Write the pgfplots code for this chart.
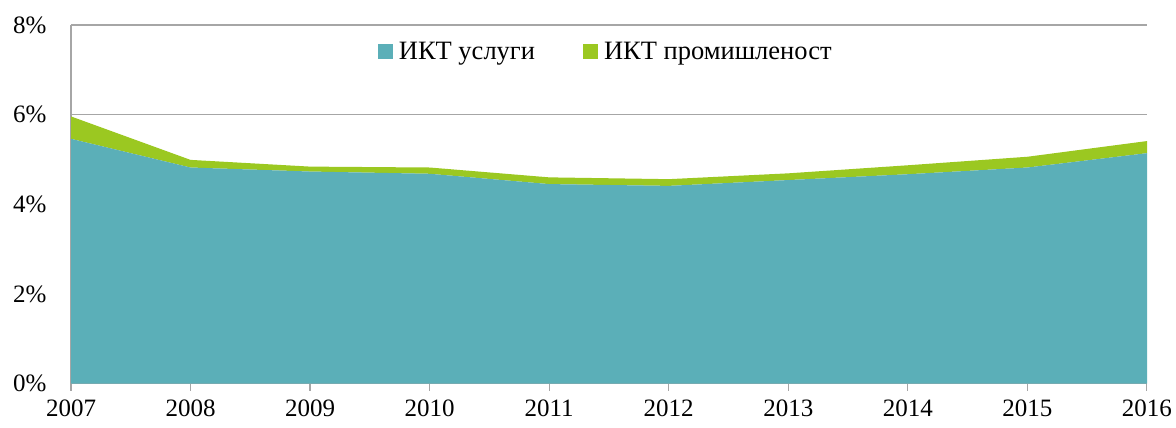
\documentclass[border=0pt]{standalone}
\usepackage{fontspec}
\setmainfont{Liberation Serif}
\usepackage{pgfplots}
\pgfplotsset{compat=1.18}
\definecolor{svc}{HTML}{5BAFB8}
\definecolor{ind}{HTML}{9BC821}
\definecolor{gridc}{HTML}{A6A6A6}
\begin{document}
\begin{tikzpicture}
\begin{axis}[
  name=ax,
  scale only axis,
  width=1076pt, height=358.5pt,
  xmin=2007, xmax=2016, ymin=0, ymax=8,
  stack plots=y,
  axis x line*=bottom, axis y line*=left,
  axis line style={gridc, line width=1.2pt},
  xtick={2007,...,2016},
  xticklabels={2007,2008,2009,2010,2011,2012,2013,2014,2015,2016},
  ytick={0,2,4,6,8},
  yticklabels={0\%,2\%,4\%,6\%,8\%},
  ymajorgrids,
  grid style={gridc, line width=1.2pt},
  tick align=outside,
  major tick length=7pt,
  x tick style={gridc, line width=1.2pt},
  y tick style={draw=none},
  every tick label/.append style={font=\fontsize{25}{30}\selectfont, text=black},
  yticklabel style={xshift=-14pt},
  xticklabel style={yshift=-6pt},
  legend style={draw=none, fill=none, at={(0.497,0.965)}, anchor=north,
    font=\fontsize{26.5}{30}\selectfont, column sep=4pt,
    /tikz/every even column/.append style={column sep=46pt}},
  legend columns=2,
  legend image code/.code={\fill[#1] (0pt,-7.5pt) rectangle (15pt,7.5pt);},
  legend cell align=left,
  clip=false,
]
\addplot[fill=svc, draw=none] coordinates {
(2007,5.46) (2008,4.82) (2009,4.73) (2010,4.68) (2011,4.45)
(2012,4.41) (2013,4.54) (2014,4.67) (2015,4.82) (2016,5.14)} \closedcycle;
\addlegendentry{ИКТ услуги}
\addplot[fill=ind, draw=none] coordinates {
(2007,0.50) (2008,0.17) (2009,0.11) (2010,0.14) (2011,0.15)
(2012,0.15) (2013,0.15) (2014,0.20) (2015,0.24) (2016,0.27)} \closedcycle;
\addlegendentry{ИКТ промишленост}
\end{axis}
\pgfresetboundingbox
\path ([xshift=-71pt,yshift=-43.5pt]ax.south west) rectangle ([xshift=29pt,yshift=25pt]ax.north east);
\end{tikzpicture}
\end{document}
